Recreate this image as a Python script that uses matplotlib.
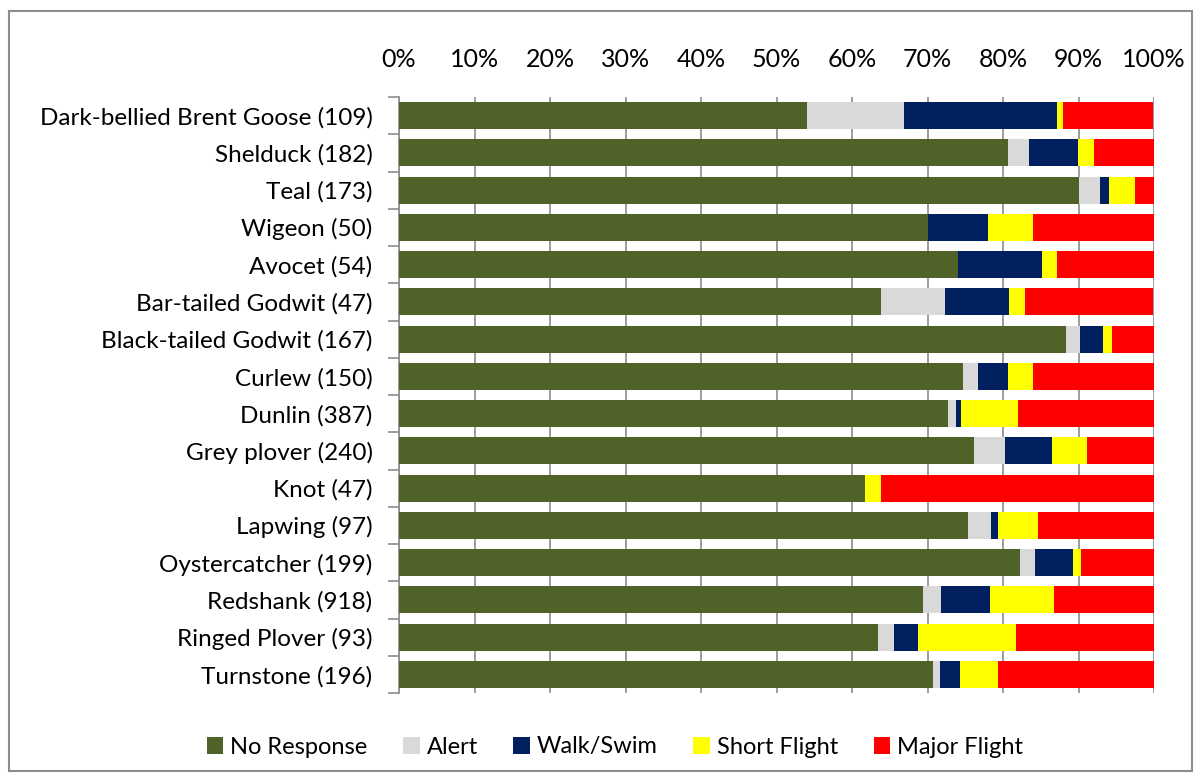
import matplotlib
matplotlib.use("Agg")
import matplotlib.pyplot as plt
from matplotlib.patches import Rectangle
import numpy as np

plt.rcParams['font.family'] = ['Lato', 'DejaVu Sans']

# data (percent of birds per response category)
species = ["Dark-bellied Brent Goose (109)", "Shelduck (182)", "Teal (173)",
           "Wigeon (50)", "Avocet (54)", "Bar-tailed Godwit (47)",
           "Black-tailed Godwit (167)", "Curlew (150)", "Dunlin (387)",
           "Grey plover (240)", "Knot (47)", "Lapwing (97)",
           "Oystercatcher (199)", "Redshank (918)", "Ringed Plover (93)",
           "Turnstone (196)"]
no_response = [54.1, 80.6, 90.1, 70.0, 74.1, 63.8, 88.4, 74.7, 72.7, 76.1, 61.7, 75.3, 82.3, 69.4, 63.4, 70.7]
alert       = [12.8,  2.8,  2.8,  0.0,  0.0,  8.5,  1.8,  2.0,  1.1,  4.1,  0.0,  3.1,  2.0,  2.4,  2.2,  1.0]
walk_swim   = [20.2,  6.5,  1.1,  8.0, 11.1,  8.5,  3.1,  4.0,  0.7,  6.3,  0.0,  1.0,  5.0,  6.5,  3.2,  2.6]
short_fl    = [ 0.9,  2.2,  3.5,  6.0,  1.9,  2.1,  1.2,  3.3,  7.5,  4.6,  2.1,  5.2,  1.0,  8.5, 12.9,  5.1]
major_fl    = [11.9,  7.9,  2.5, 16.0, 13.0, 17.0,  5.5, 16.0, 18.0,  8.9, 36.2, 15.5,  9.7, 13.2, 18.3, 20.6]

series = [("No Response", no_response, "#4F6228"),
          ("Alert", alert, "#D9D9D9"),
          ("Walk/Swim", walk_swim, "#002060"),
          ("Short Flight", short_fl, "#FFFF00"),
          ("Major Flight", major_fl, "#FF0000")]

W, H = 1201, 780
fig = plt.figure(figsize=(W / 100, H / 100), dpi=100)
ax = fig.add_axes([399 / W, 1 - 693 / H, (1154 - 399) / W, (693 - 97) / H])

# outer chart border
fig.patches.append(Rectangle((9 / W, 1 - 771 / H), (1192 - 9) / W, (771 - 11) / H,
                             transform=fig.transFigure, fill=False,
                             edgecolor="#8C8C8C", linewidth=1.5))

y = np.arange(len(species))
left = np.zeros(len(species))
for name, vals, col in series:
    vals = np.array(vals)
    ax.barh(y, vals, left=left, height=0.73, color=col, label=name, zorder=3)
    left += vals

ax.set_xlim(0, 100)
ax.set_ylim(len(species) - 0.5, -0.5)
ax.set_xticks(np.arange(0, 101, 10))
ax.set_xticklabels([f"{v}%" for v in range(0, 101, 10)])
ax.xaxis.tick_top()
ax.set_yticks(np.arange(len(species) + 1) - 0.5, minor=True)
ax.set_yticks(y)
ax.set_yticklabels(species)

ax.grid(axis="x", color="#8C8C8C", linewidth=1.2, zorder=0)
for s in ["right", "bottom", "top"]:
    ax.spines[s].set_visible(False)
ax.spines["left"].set_color("#8C8C8C")
ax.spines["left"].set_linewidth(1.2)
ax.tick_params(axis="y", which="major", length=0, pad=19, labelsize=17.5)
ax.tick_params(axis="y", which="minor", length=8, color="#8C8C8C", width=1.2)
ax.tick_params(axis="x", length=0, pad=19, labelsize=18)

handles, labels = ax.get_legend_handles_labels()
fig.legend(handles, labels, loc="center", bbox_to_anchor=(615 / W, 1 - 747 / H),
           ncol=5, frameon=False, fontsize=17, handlelength=0.7, handleheight=0.7,
           handletextpad=0.3, columnspacing=1.5)

fig.savefig("out.png", dpi=100)
